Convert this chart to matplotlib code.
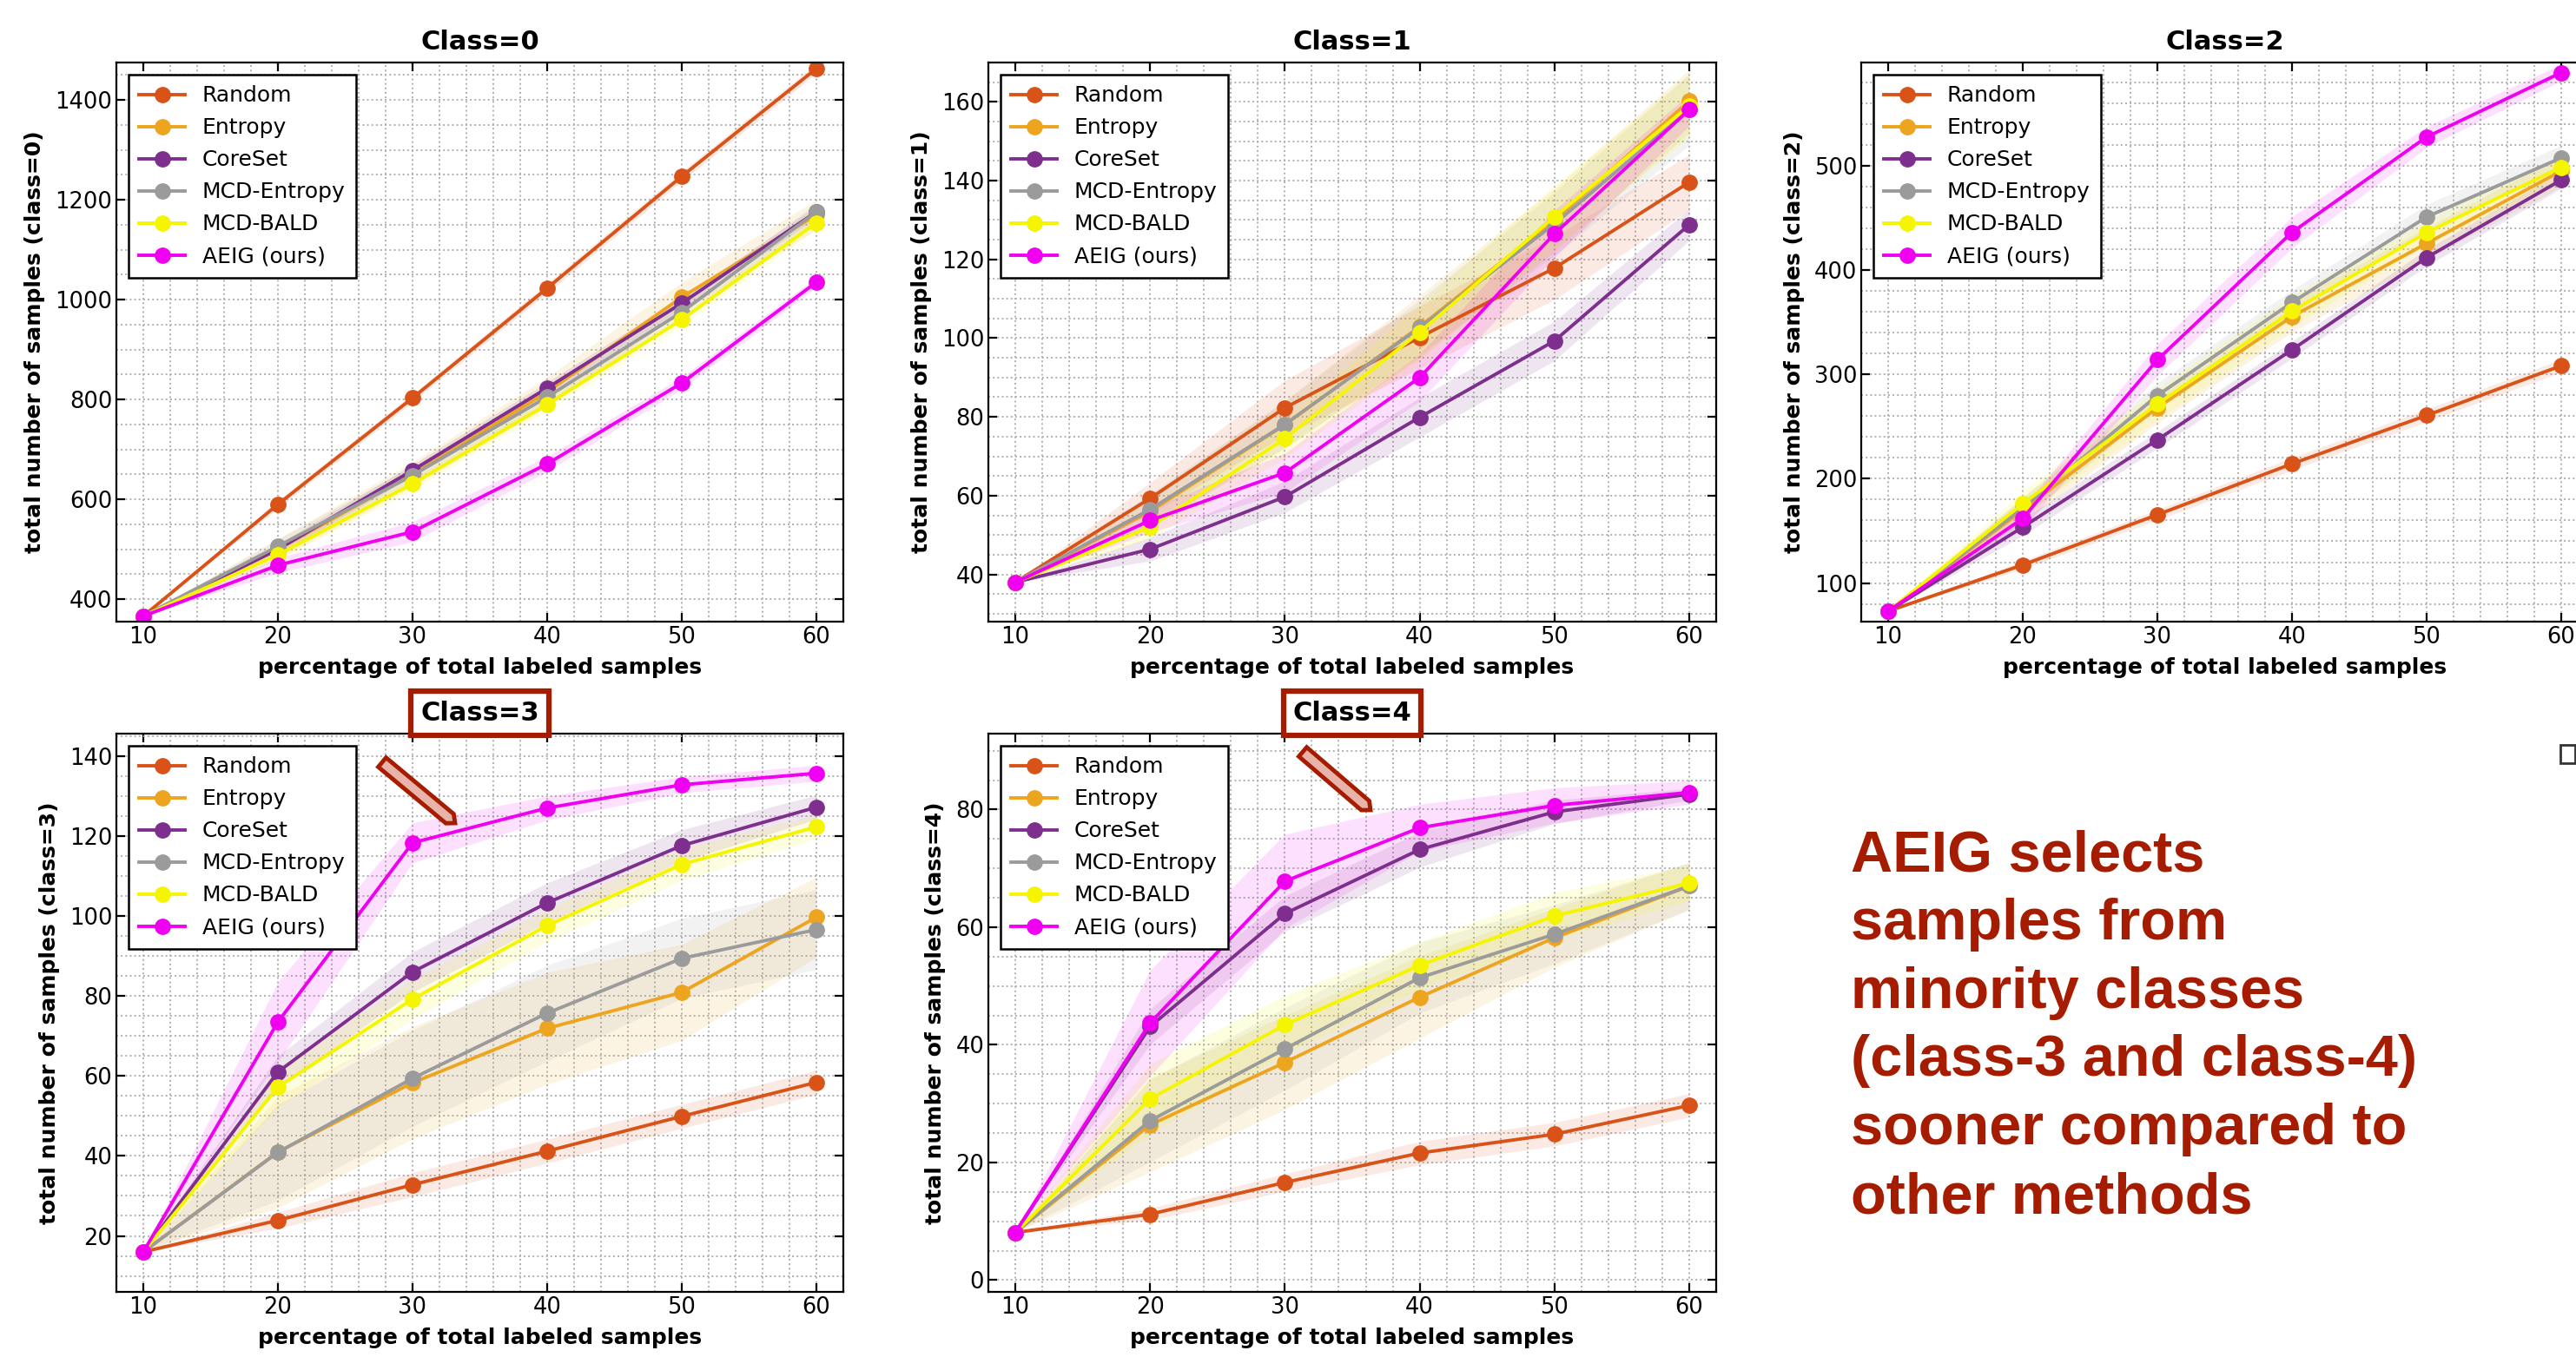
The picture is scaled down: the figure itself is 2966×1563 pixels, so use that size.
import numpy as np
import matplotlib.pyplot as plt
from matplotlib.ticker import MultipleLocator, AutoMinorLocator
from matplotlib.patches import Polygon, Rectangle

# dados
pct = [10, 20, 30, 40, 50, 60]
methods = ['Random', 'Entropy', 'CoreSet', 'MCD-Entropy', 'MCD-BALD', 'AEIG (ours)']
colors = ['#D95319', '#EDA520', '#7E2F8E', '#9B9B9B', '#F5F500', '#F000F0']

# médias: uma linha por método (mesma ordem de methods)
c0_mean = [[366, 590, 803, 1023, 1247, 1463],
           [366, 500, 650, 815, 1005, 1170],
           [366, 500, 658, 823, 993, 1176],
           [366, 506, 648, 805, 975, 1176],
           [366, 489, 631, 790, 960, 1154],
           [366, 468, 535, 671, 833, 1035]]
c1_mean = [[38, 59.3, 82.3, 100.2, 117.8, 139.6],
           [38, 56, 78, 102.9, 130, 160.2],
           [38, 46.4, 59.7, 79.9, 99.3, 128.8],
           [38, 56.5, 78.1, 102.7, 129, 158],
           [38, 52, 74.5, 101.5, 130.8, 159],
           [38, 53.7, 65.8, 90, 126.5, 158]]
c2_mean = [[73, 117.4, 165.5, 214.3, 260.7, 308.3],
           [73, 170, 268, 355.5, 425.6, 495],
           [73, 153.6, 237.3, 323.6, 412, 486.4],
           [73, 172, 279.8, 369, 451, 507.6],
           [73, 176, 271.7, 360.6, 436, 498.7],
           [73, 162, 314, 436.2, 527.6, 589.3]]
c3_mean = [[16, 23.9, 32.8, 41.2, 49.9, 58.4],
           [16, 41, 58.3, 71.9, 80.9, 99.7],
           [16, 61, 86, 103.3, 117.6, 127.2],
           [16, 40.9, 59.4, 75.7, 89.4, 96.6],
           [16, 57.2, 79.2, 97.6, 112.9, 122.3],
           [16, 73.5, 118.3, 127, 132.8, 135.7]]
c4_mean = [[8.1, 11.2, 16.6, 21.6, 24.8, 29.7],
           [8.1, 26.4, 37, 48.1, 58.2, 67],
           [8.1, 43.1, 62.3, 73.2, 79.6, 82.6],
           [8.1, 27.1, 39.3, 51.4, 58.8, 67],
           [8.1, 30.8, 43.4, 53.5, 61.9, 67.5],
           [8.1, 43.7, 67.8, 76.9, 80.7, 82.9]]

# desvios (faixas sombreadas), estimados
c0_std = [[0, 8, 8, 10, 10, 10], [0, 20, 25, 30, 30, 30], [0, 10, 12, 12, 12, 12],
          [0, 15, 18, 18, 18, 18], [0, 10, 12, 12, 12, 12], [0, 15, 20, 15, 12, 10]]
c1_std = [[0, 4, 7, 8, 8, 7], [0, 4, 6, 8, 8, 8], [0, 3, 4, 5, 5, 4],
          [0, 4, 6, 7, 8, 9], [0, 3, 5, 7, 8, 8], [0, 3, 5, 6, 6, 4]]
c2_std = [[0, 4, 5, 6, 6, 6], [0, 12, 15, 15, 15, 15], [0, 8, 8, 8, 8, 8],
          [0, 10, 12, 12, 12, 12], [0, 12, 15, 15, 12, 12], [0, 10, 15, 15, 10, 8]]
c3_std = [[0, 2, 3, 3, 3, 3], [0, 14, 14, 14, 12, 10], [0, 4, 5, 5, 4, 3],
          [0, 12, 12, 12, 10, 10], [0, 5, 5, 4, 4, 3], [0, 10, 5, 3, 2, 2]]
c4_std = [[0, 1, 1.5, 2, 2, 2], [0, 8, 8, 7, 5, 4], [0, 3, 3, 3, 2, 1],
          [0, 7, 7, 6, 5, 4], [0, 6, 5, 4, 4, 3], [0, 9, 8, 4, 3, 2]]

means = [c0_mean, c1_mean, c2_mean, c3_mean, c4_mean]
stds = [c0_std, c1_std, c2_std, c3_std, c4_std]
ylims = [(355, 1475), (28, 170), (63, 599), (6, 145.6), (-2, 92.9)]
ysteps = [200, 20, 100, 20, 20]

note = ('AEIG selects\nsamples from\nminority classes\n'
        '(class-3 and class-4)\nsooner compared to\nother methods')

W, H = 2966, 1563
RED = '#A51C00'
fig = plt.figure(figsize=(W / 100, H / 100), dpi=100)

# posições dos eixos em pixels (x0, y0, x1, y1)
boxes = [(134, 72, 971, 716), (1138, 72, 1976, 716), (2143, 72, 2980, 716),
         (134, 845, 971, 1488), (1138, 845, 1976, 1488)]

for k in range(5):
    x0, y0, x1, y1 = boxes[k]
    ax = fig.add_axes([x0 / W, 1 - y1 / H, (x1 - x0) / W, (y1 - y0) / H])
    for m in range(6):
        mu = np.array(means[k][m])
        sd = np.array(stds[k][m])
        ax.fill_between(pct, mu - sd, mu + sd, color=colors[m], alpha=0.12, lw=0)
        ax.plot(pct, mu, '-o', color=colors[m], lw=2.8, ms=12.5, label=methods[m])
    ax.set_xlim(8, 62)
    ax.set_ylim(*ylims[k])
    ax.xaxis.set_major_locator(MultipleLocator(10))
    ax.yaxis.set_major_locator(MultipleLocator(ysteps[k]))
    ax.xaxis.set_minor_locator(AutoMinorLocator())
    ax.yaxis.set_minor_locator(AutoMinorLocator())
    ax.grid(which='both', linestyle=':', color='#b0b0b0', lw=1.4)
    ax.set_axisbelow(True)
    ax.tick_params(which='major', direction='in', top=True, right=True,
                   length=7, width=1.6, labelsize=18.5)
    ax.tick_params(which='minor', length=0)
    for s in ax.spines.values():
        s.set_linewidth(1.6)
    ax.set_xlabel('percentage of total labeled samples', fontsize=18,
                  fontweight='bold', labelpad=7.5)
    ax.set_ylabel(f'total number of samples (class={k})', fontsize=18,
                  fontweight='bold', labelpad=8)
    if k < 3:
        ax.set_title(f'Class={k}', fontsize=22, fontweight='bold', pad=11)
    else:
        ax.set_title(f'Class={k}', fontsize=22, fontweight='bold', pad=11,
                     bbox=dict(boxstyle='square,pad=0.36', fc='white', ec=RED, lw=4.5))
    leg = ax.legend(loc='upper left', fontsize=18, fancybox=False, framealpha=1,
                    edgecolor='black', borderaxespad=0.55, labelspacing=0.52,
                    handlelength=2.1, borderpad=0.5)
    leg.get_frame().set_linewidth(1.8)


def bar(xa, ya, xb, yb, w=14, tip=8):
    # barra inclinada com ponta, em pixels da figura
    p0 = np.array([xa, H - ya])
    p1 = np.array([xb, H - yb])
    d = (p1 - p0) / np.linalg.norm(p1 - p0)
    n = np.array([-d[1], d[0]]) * w / 2
    e = p1 - d * tip
    pts = np.array([p0 + n, e + n, p1, e - n, p0 - n]) / [W, H]
    fig.add_artist(Polygon(pts, closed=True, transform=fig.transFigure,
                           fc='#E8B4AA', ec=RED, lw=3.5))


bar(440, 878, 524, 948)
bar(1500, 866, 1578, 933)

fig.add_artist(Rectangle((2948 / W, 1 - 879 / H), 17 / W, 21 / H, transform=fig.transFigure,
                         fc='none', ec='#333333', lw=2))

fig.text(2131 / W, 1 - 955 / H, note, color=RED, fontsize=48, fontweight='bold',
         family='Liberation Sans', va='top', ha='left', linespacing=1.35)

fig.savefig('out.png', dpi=100)
